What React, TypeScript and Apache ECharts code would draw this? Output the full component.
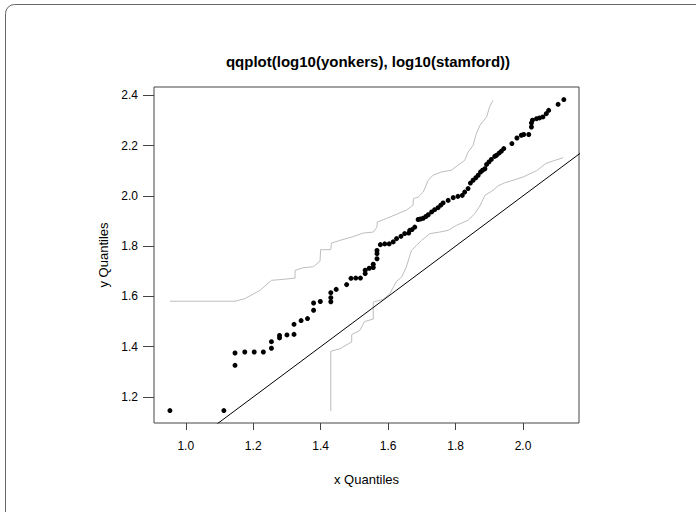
import React, { useEffect, useRef } from "react";
import * as echarts from "echarts";

// Sorted quantile pairs
const xQuantiles = [
  0.953, 1.113, 1.146, 1.146, 1.175, 1.203, 1.23, 1.254, 1.254, 1.278, 1.278, 1.3, 1.321, 1.321,
  1.342, 1.361, 1.379, 1.379, 1.399, 1.43, 1.43, 1.43, 1.446, 1.477, 1.49, 1.504, 1.518, 1.532,
  1.532, 1.544, 1.556, 1.556, 1.567, 1.567, 1.567, 1.577, 1.59, 1.603, 1.615, 1.625, 1.638, 1.649,
  1.661, 1.664, 1.671, 1.679, 1.689, 1.696, 1.704, 1.712, 1.719, 1.729, 1.738, 1.748, 1.756, 1.763,
  1.778, 1.793, 1.807, 1.82, 1.827, 1.837, 1.844, 1.852, 1.86, 1.867, 1.874, 1.88, 1.887, 1.892,
  1.899, 1.906, 1.916, 1.921, 1.929, 1.936, 1.943, 1.967, 1.982, 1.995, 2.002, 2.017, 2.025, 2.025,
  2.028, 2.04, 2.049, 2.059, 2.069, 2.076, 2.104, 2.121,
];
const yQuantiles = [
  1.146, 1.146, 1.326, 1.375, 1.379, 1.379, 1.379, 1.394, 1.42, 1.435, 1.445, 1.447, 1.449, 1.489,
  1.504, 1.512, 1.545, 1.574, 1.58, 1.579, 1.595, 1.615, 1.628, 1.647, 1.672, 1.673, 1.673, 1.691,
  1.704, 1.712, 1.715, 1.728, 1.75, 1.77, 1.783, 1.806, 1.809, 1.809, 1.817, 1.83, 1.839, 1.85,
  1.852, 1.863, 1.866, 1.876, 1.906, 1.908, 1.911, 1.918, 1.925, 1.936, 1.945, 1.953, 1.963, 1.972,
  1.982, 1.993, 1.998, 2.002, 2.015, 2.029, 2.051, 2.062, 2.072, 2.082, 2.095, 2.102, 2.108, 2.125,
  2.135, 2.145, 2.157, 2.161, 2.17, 2.178, 2.188, 2.208, 2.23, 2.241, 2.244, 2.244, 2.274, 2.29,
  2.301, 2.307, 2.31, 2.314, 2.327, 2.34, 2.364, 2.383,
];

// Confidence envelope (grey lines)
const upperEnvX = [
  0.953, 1.146, 1.175, 1.22, 1.254, 1.29, 1.324, 1.324, 1.348, 1.378, 1.398, 1.4, 1.43, 1.432,
  1.457, 1.492, 1.526, 1.556, 1.567, 1.568, 1.595, 1.625, 1.654, 1.674, 1.675, 1.689, 1.704, 1.719,
  1.733, 1.758, 1.788, 1.807, 1.827, 1.837, 1.852, 1.86, 1.872, 1.892, 1.901, 1.911,
];
const upperEnvY = [
  1.581, 1.581, 1.591, 1.624, 1.664, 1.668, 1.673, 1.704, 1.714, 1.718, 1.74, 1.786, 1.786, 1.812,
  1.823, 1.836, 1.852, 1.856, 1.876, 1.896, 1.91, 1.927, 1.943, 1.963, 1.989, 1.995, 2.015, 2.062,
  2.082, 2.095, 2.102, 2.122, 2.141, 2.174, 2.201, 2.241, 2.28, 2.314, 2.354, 2.38,
];
const lowerEnvX = [
  1.43, 1.43, 1.457, 1.492, 1.492, 1.516, 1.53, 1.556, 1.556, 1.585, 1.605, 1.625, 1.64, 1.654,
  1.669, 1.684, 1.699, 1.724, 1.753, 1.778, 1.803, 1.837, 1.857, 1.872, 1.887, 1.911, 1.926, 1.946,
  1.961, 2.0, 2.04, 2.069, 2.094, 2.119,
];
const lowerEnvY = [
  1.144, 1.382, 1.392, 1.419, 1.448, 1.465, 1.5, 1.51, 1.578, 1.588, 1.611, 1.66, 1.677, 1.717,
  1.783, 1.803, 1.823, 1.85, 1.856, 1.863, 1.883, 1.903, 1.929, 1.96, 2.002, 2.022, 2.04, 2.052,
  2.058, 2.075, 2.1, 2.13, 2.141, 2.152,
];

// Reference line y = x
const refLineX = [0.9, 2.2];

const xTicks = [1.0, 1.2, 1.4, 1.6, 1.8, 2.0];
const yTicks = [1.2, 1.4, 1.6, 1.8, 2.0, 2.2, 2.4];

const xRange = [0.9058, 2.166];
const yRange = [1.0966, 2.433];

const FONT = "'Liberation Sans', Arial, Helvetica, sans-serif";

export default function App() {
  const ref = useRef<HTMLDivElement>(null);
  useEffect(() => {
    if (!ref.current) return;
    const chart = echarts.init(ref.current, undefined, { renderer: "svg" });
    const pts = xQuantiles.map((x, i) => [x, yQuantiles[i]]);
    const up = upperEnvX.map((x, i) => [x, upperEnvY[i]]);
    const lo = lowerEnvX.map((x, i) => [x, lowerEnvY[i]]);
    const refLine = refLineX.map((x) => [x, x]);
    chart.setOption({
      animation: false,
      backgroundColor: "#ffffff",
      grid: {
        left: 154,
        top: 87,
        width: 425,
        height: 336,
        show: true,
        borderColor: "#444",
        borderWidth: 1,
        backgroundColor: "transparent",
        containLabel: false,
        outerBoundsMode: "none",
      },
      xAxis: {
        type: "value",
        min: xRange[0],
        max: xRange[1],
        splitLine: { show: false },
        axisLine: { show: false },
        axisTick: {
          show: true,
          inside: false,
          length: 7,
          customValues: xTicks,
          lineStyle: { color: "#444", width: 1 },
        },
        axisLabel: {
          show: true,
          customValues: xTicks,
          formatter: (v: number) => v.toFixed(1),
          margin: 17,
          fontSize: 12,
          color: "#000",
          fontFamily: FONT,
        },
      },
      yAxis: {
        type: "value",
        min: yRange[0],
        max: yRange[1],
        splitLine: { show: false },
        axisLine: { show: false },
        axisTick: {
          show: true,
          inside: false,
          length: 11,
          customValues: yTicks,
          lineStyle: { color: "#444", width: 1 },
        },
        axisLabel: {
          show: true,
          customValues: yTicks,
          formatter: (v: number) => v.toFixed(1),
          margin: 16,
          fontSize: 12,
          color: "#000",
          fontFamily: FONT,
        },
      },
      graphic: [
        {
          type: "rect",
          silent: true,
          shape: { x: 5.5, y: 4.5, width: 700, height: 520, r: 9 },
          style: { fill: "none", stroke: "#666", lineWidth: 1 },
        },
        {
          type: "text",
          x: 368,
          y: 61,
          style: {
            text: "qqplot(log10(yonkers), log10(stamford))",
            font: `bold 15px ${FONT}`,
            fill: "#000",
            align: "center",
            verticalAlign: "middle",
          },
        },
        {
          type: "text",
          x: 366.5,
          y: 479,
          style: {
            text: "x Quantiles",
            font: `13px ${FONT}`,
            fill: "#000",
            align: "center",
            verticalAlign: "middle",
          },
        },
        {
          type: "text",
          x: 103,
          y: 255,
          rotation: Math.PI / 2,
          style: {
            text: "y Quantiles",
            font: `13px ${FONT}`,
            fill: "#000",
            align: "center",
            verticalAlign: "middle",
          },
        },
      ],
      series: [
        {
          type: "line",
          data: up,
          symbol: "none",
          lineStyle: { color: "#bdbdbd", width: 1 },
          z: 1,
        },
        {
          type: "line",
          data: lo,
          symbol: "none",
          lineStyle: { color: "#bdbdbd", width: 1 },
          z: 1,
        },
        {
          type: "line",
          data: refLine,
          symbol: "none",
          clip: true,
          lineStyle: { color: "#000", width: 1 },
          z: 2,
        },
        {
          type: "scatter",
          data: pts,
          symbol: "circle",
          symbolSize: 5,
          itemStyle: { color: "#000", opacity: 1 },
          z: 3,
        },
      ],
    });
    return () => chart.dispose();
  }, []);
  return (
    <div
      ref={ref}
      style={{ position: "fixed", left: 0, top: 0, width: 696, height: 512 }}
    />
  );
}
